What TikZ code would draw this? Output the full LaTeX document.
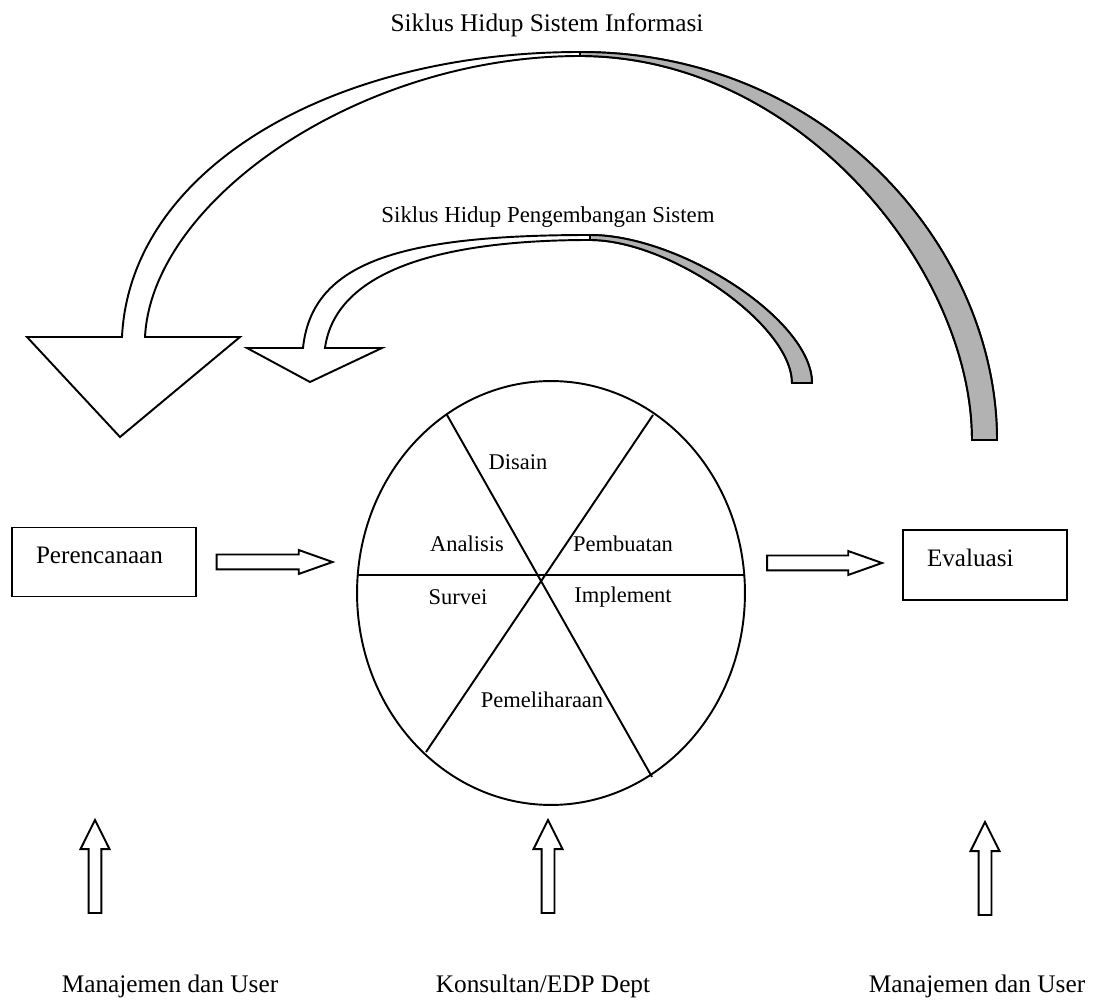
\documentclass[tikz,border=0pt]{standalone}
\usepackage{fontspec}
\setmainfont{Liberation Serif}
\usetikzlibrary{shapes.geometric,shapes.arrows}

\begin{document}
\begin{tikzpicture}[x=0.02cm,y=-0.02cm,line width=1.1pt,
    judul/.style={font=\fontsize{14.4}{17}\selectfont},
    tahap/.style={font=\fontsize{12.8}{15}\selectfont},
    kotak/.style={draw,rectangle,align=left,inner xsep=0.48cm,text depth=8pt,font=\fontsize{14.3}{17}\selectfont},
    panah/.style={draw,fill=white,single arrow,inner xsep=0pt,inner ysep=0.13cm,minimum width=0.44cm,
        single arrow head extend=0.09cm,single arrow tip angle=39},
    naik/.style={draw,fill=white,single arrow,inner xsep=0pt,inner ysep=0.11cm,minimum width=0.54cm,
        single arrow head extend=0.16cm,single arrow tip angle=53,minimum height=1.86cm,rotate=90}]
  \useasboundingbox (0,0) rectangle (1093,1006);
  % titles
  \node[judul] (sisinfo) at (547,25) {Siklus Hidup Sistem Informasi};
  \node[font=\fontsize{13}{15}\selectfont] (sispeng) at (548,217) {Siklus Hidup Pengembangan Sistem};
  % big curved arrow, head on the left
  \draw[fill=white] (145,337) -- (240,337) -- (120,437) -- (27,337) -- (122,337)
      .. controls (130,170) and (330,52) .. (580,52)
      .. controls (830,52) and (997,250) .. (997,440) -- (972,440)
      .. controls (972,270) and (800,56) .. (580,56)
      .. controls (360,56) and (152,200) .. (145,337) -- cycle;
  \draw[fill=gray!60] (580,52) .. controls (830,52) and (997,250) .. (997,440) -- (972,440)
      .. controls (972,270) and (800,56) .. (580,56) -- cycle; % shaded back
  % small curved arrow
  \draw[fill=white] (325,348) -- (382,348) -- (310,382) -- (247,348) -- (303,348)
      .. controls (312,262) and (400,235) .. (590,235)
      .. controls (680,235) and (812,320) .. (812,383) -- (792,383)
      .. controls (792,325) and (670,240) .. (590,240)
      .. controls (430,240) and (335,275) .. (325,348) -- cycle;
  \draw[fill=gray!60] (590,235) .. controls (680,235) and (812,320) .. (812,383) -- (792,383)
      .. controls (792,325) and (670,240) .. (590,240) -- cycle;
  % the wheel
  \node[draw,ellipse,minimum width=7.76cm,minimum height=8.48cm,inner sep=0pt] (roda) at (551,593) {};
  \draw (447,415) -- (652,777);
  \draw (653,415) -- (426,752);
  \draw (358,575) -- (744,575);
  \node[tahap] (disain) at (518,462) {Disain};
  \node[tahap] (analisis) at (467,544) {Analisis};
  \node[tahap] (pembuatan) at (623,544) {Pembuatan};
  \node[tahap] (survei) at (458,597) {Survei};
  \node[tahap] (implement) at (623,597) {Implement};
  \node[tahap] (pemeliharaan) at (542,700) {Pemeliharaan};
  % boxes and block arrows
  \node[kotak,text width=2.72cm,minimum height=1.38cm] (rencana) at (104,562) {Perencanaan};
  \node[kotak,text width=2.32cm,minimum height=1.4cm] (evaluasi) at (985,565) {Evaluasi};
  \node[panah,minimum height=2.32cm] (kiri) at (264,562) {};
  \node[panah,minimum height=2.3cm] (kanan) at (814,563) {};
  % who takes part
  \node[naik] (naik1) at (95,873) {};
  \node[naik] (naik2) at (548,873) {};
  \node[naik] (naik3) at (985,875) {};
  \node[judul] (user1) at (170,986) {Manajemen dan User};
  \node[judul] (edp) at (543,986) {Konsultan/EDP Dept};
  \node[judul] (user2) at (977,986) {Manajemen dan User};
\end{tikzpicture}
\end{document}
